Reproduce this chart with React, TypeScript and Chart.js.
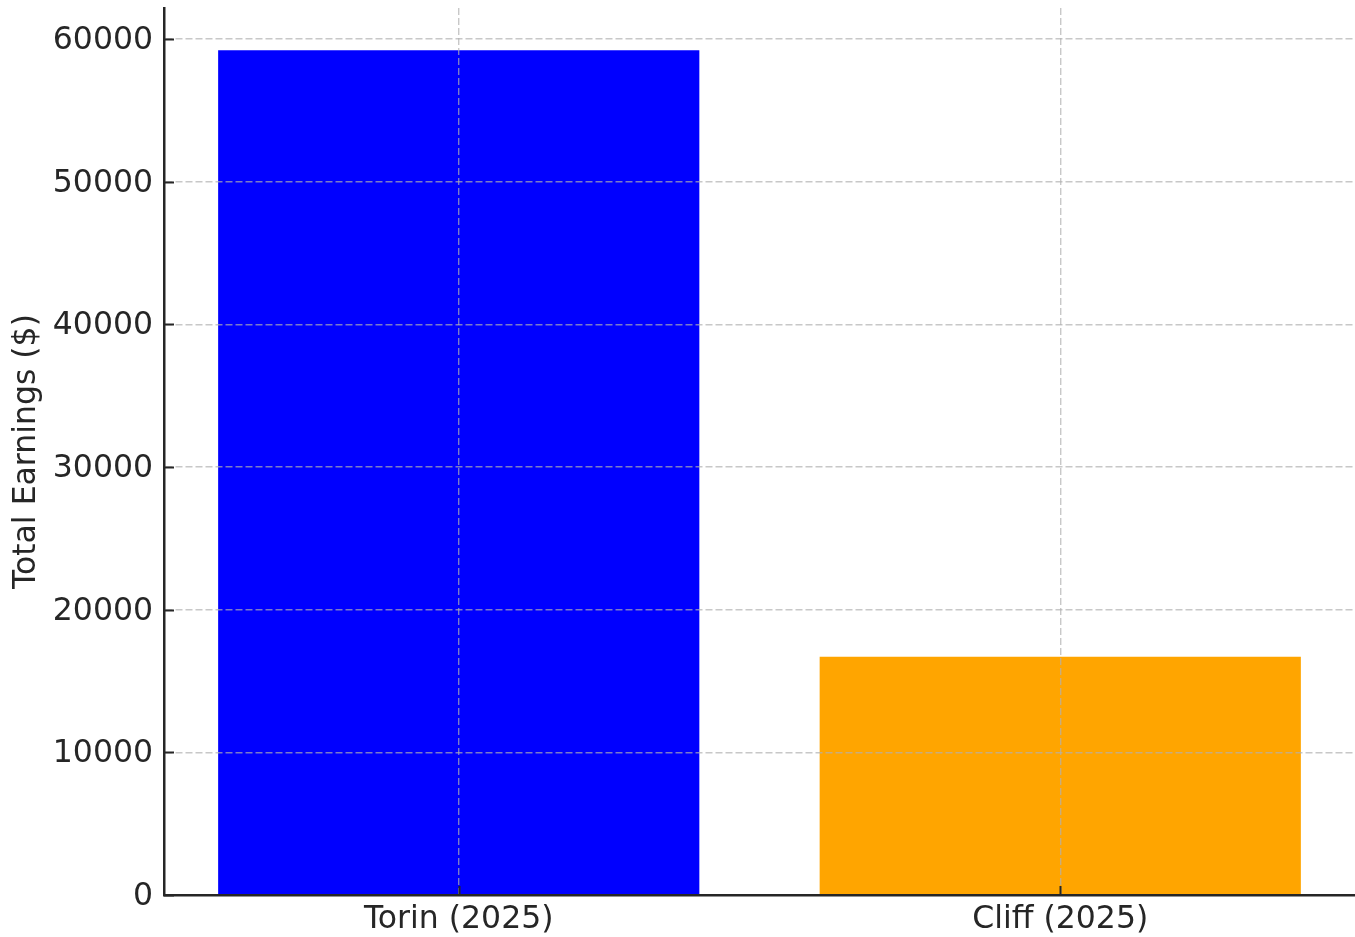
import React, { useEffect, useRef } from "react";
import { Chart, registerables } from "chart.js";

Chart.register(...registerables);

const categories = ["Torin (2025)", "Cliff (2025)"];
const earnings = [59200, 16700];
const barColors = ["#0000ff", "#ffa500"];
const yTicks = [0, 10000, 20000, 30000, 40000, 50000, 60000];
const yTitle = "Total Earnings ($)";

const FONT = "'DejaVu Sans', sans-serif";
const TEXT = "#262626";
const GRID = "rgba(176,176,176,0.7)";
const FS = 31.5;

const innerTicks = {
  id: "innerTicks",
  afterDraw(chart: any) {
    const ctx = chart.ctx;
    const area = chart.chartArea;
    const xs = chart.scales.x;
    const ys = chart.scales.y;
    ctx.save();
    ctx.strokeStyle = TEXT;
    ctx.lineWidth = 2;
    ctx.setLineDash([]);
    ys.ticks.forEach((t: any) => {
      const p = Math.round(ys.getPixelForValue(t.value)) + 0.5;
      ctx.beginPath();
      ctx.moveTo(area.left, p);
      ctx.lineTo(area.left + 10, p);
      ctx.stroke();
    });
    xs.ticks.forEach((t: any) => {
      const p = Math.round(xs.getPixelForValue(t.value)) + 0.5;
      ctx.beginPath();
      ctx.moveTo(p, area.bottom);
      ctx.lineTo(p, area.bottom - 9);
      ctx.stroke();
    });
    ctx.restore();
  },
};

export default function App() {
  const ref = useRef<HTMLCanvasElement>(null);
  useEffect(() => {
    if (!ref.current) return;
    const yMax = Math.max(...earnings) * 1.05;
    const chart = new Chart(ref.current, {
      type: "bar",
      data: {
        datasets: [
          {
            data: earnings.map((v, i) => ({ x: i, y: v })),
            backgroundColor: barColors,
            borderWidth: 0,
            categoryPercentage: 1,
            barPercentage: 0.8,
          } as any,
        ],
      },
      options: {
        animation: false,
        responsive: false,
        layout: { padding: { top: 8, left: 0, right: 0, bottom: 0 } },
        plugins: { legend: { display: false }, tooltip: { enabled: false } },
        scales: {
          x: {
            type: "linear",
            min: -0.49,
            max: 1.49,
            offset: false,
            afterBuildTicks: (s: any) => {
              s.ticks = categories.map((_, i) => ({ value: i }));
            },
            afterFit: (s: any) => {
              s.height = 42;
              s.paddingLeft = 0;
              s.paddingRight = 0;
            },
            ticks: {
              callback: (v: any) => categories[v] ?? "",
              font: { family: FONT, size: FS },
              color: TEXT,
              padding: 6,
              maxRotation: 0,
              autoSkip: false,
              z: 1,
            },
            grid: {
              offset: false,
              color: GRID,
              lineWidth: 1.4,
              drawTicks: false,
              tickBorderDash: [],
              z: 1,
            },
            border: { display: true, color: TEXT, width: 2.5, dash: [7, 3], z: 2 },
          } as any,
          y: {
            type: "linear",
            min: 0,
            max: yMax,
            afterBuildTicks: (s: any) => {
              s.ticks = yTicks.map((v) => ({ value: v }));
            },
            afterFit: (s: any) => {
              s.width = 164;
              s.paddingTop = 0;
              s.paddingBottom = 0;
            },
            ticks: {
              callback: (v: any) => String(v),
              font: { family: FONT, size: FS },
              color: TEXT,
              padding: 11,
              labelOffset: 2,
              z: 1,
            },
            grid: {
              color: GRID,
              lineWidth: 1.4,
              drawTicks: false,
              tickBorderDash: [],
              z: 1,
            },
            border: { display: true, color: TEXT, width: 2.5, dash: [7, 3], z: 2 },
            title: {
              display: true,
              text: yTitle,
              font: { family: FONT, size: FS },
              color: TEXT,
              padding: { top: 8, bottom: 0 },
            },
          } as any,
        },
      },
      plugins: [innerTicks],
    });
    return () => chart.destroy();
  }, []);
  return (
    <div style={{ position: "absolute", left: 0, top: 0, width: 1355, height: 937, background: "#fff" }}>
      <canvas ref={ref} width={1355} height={937} style={{ display: "block" }} />
    </div>
  );
}
